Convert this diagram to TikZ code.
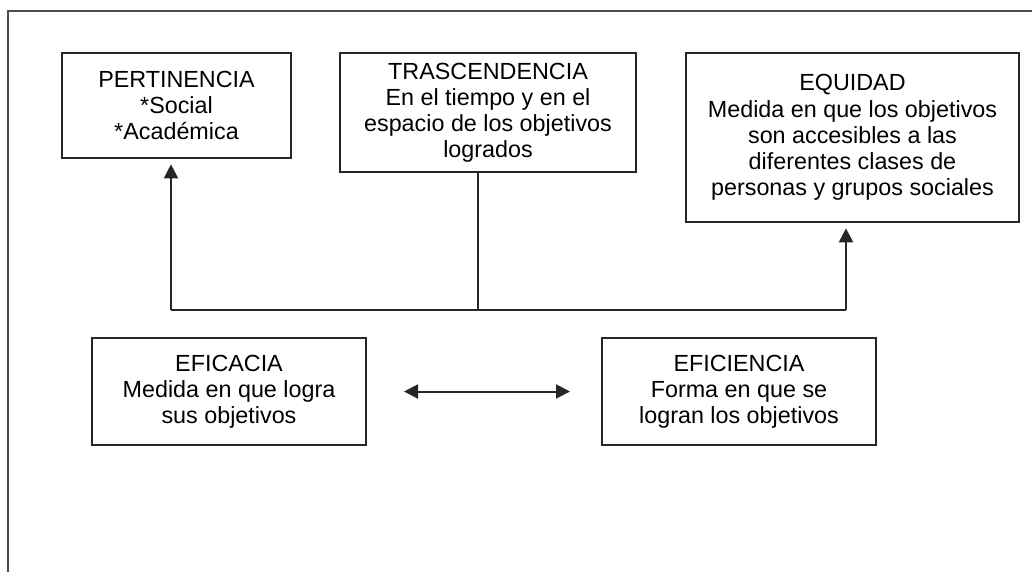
\documentclass[tikz,border=0pt]{standalone}
\usepackage{fontspec}
\setmainfont{Liberation Sans}
\usepackage{tikz}
\usetikzlibrary{arrows.meta}

\begin{document}
\begin{tikzpicture}[x=0.75pt, y=-0.75pt,
    caja/.style={draw=black!85, line width=1.5pt, align=center, inner sep=0pt,
      font=\fontsize{17.5pt}{19.6pt}\selectfont},
    linea/.style={draw=black!85, line width=1.5pt},
    flecha/.style={linea, -{Triangle[length=10.5pt,width=10.5pt]}, shorten >=4pt},
    doble/.style={linea, {Triangle[length=10.5pt,width=10.5pt]}-{Triangle[length=10.5pt,width=10.5pt]}}]
    \useasboundingbox (0,0) rectangle (1032,572);
    \draw[draw=black!70, line width=1.6pt] (1032,11) -- (8,11) -- (8,572);
    \node[caja, minimum width=171.75pt, minimum height=78.75pt] (pert) at (176.5,105.5)
      {PERTINENCIA\\*Social\\*Académica};
    \node[caja, minimum width=222pt, minimum height=89.25pt] (tras) at (488,112.5)
      {TRASCENDENCIA\\En el tiempo y en el\\espacio de los objetivos\\logrados};
    \node[caja, minimum width=249.75pt, minimum height=126.75pt] (equi) at (852.5,137.5)
      {EQUIDAD\\Medida en que los objetivos\\son accesibles a las\\diferentes clases de\\personas y grupos sociales};
    \node[caja, minimum width=205.5pt, minimum height=80.25pt] (efca) at (229,391.5)
      {EFICACIA\\Medida en que logra\\sus objetivos};
    \node[caja, minimum width=205.5pt, minimum height=80.25pt] (efci) at (739,391.5)
      {EFICIENCIA\\Forma en que se\\logran los objetivos};
    \coordinate (jl) at (171,310);
    \coordinate (jc) at (478,310);
    \coordinate (jr) at (846,310);
    \draw[linea] (tras.south -| jc) -- (jc);
    \draw[linea] (jl) -- (jr);
    \draw[flecha] (jl) -- (pert.south -| jl);
    \draw[flecha] (jr) -- (equi.south -| jr);
    \draw[doble] ([xshift=27.75pt]efca.east) -- ([xshift=-23.25pt]efci.west);
\end{tikzpicture}
\end{document}
